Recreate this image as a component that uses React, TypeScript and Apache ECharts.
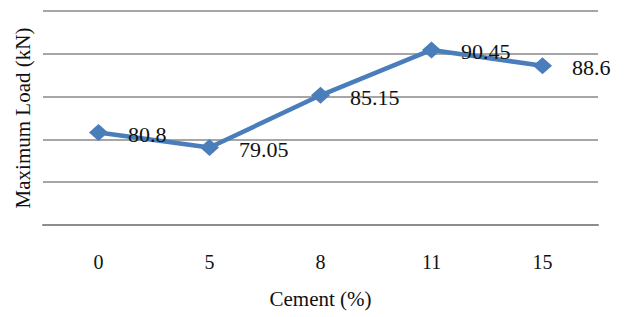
import React, { useEffect, useRef } from "react";
import * as echarts from "echarts";

const categories = ["0", "5", "8", "11", "15"];
const loads = [80.8, 79.05, 85.15, 90.45, 88.6];
const yMin = 70;
const yMax = 95;
const yInterval = 5;

const SERIF = "'Liberation Serif', 'Times New Roman', serif";

export default function App() {
  const ref = useRef<HTMLDivElement>(null);
  useEffect(() => {
    if (!ref.current) return;
    const chart = echarts.init(ref.current, null, { renderer: "svg" });
    chart.setOption({
      animation: false,
      textStyle: { fontFamily: SERIF },
      grid: { left: 43, right: 31, top: 11, bottom: 92 },
      xAxis: {
        type: "category",
        data: categories,
        boundaryGap: true,
        axisLine: { show: true, lineStyle: { color: "#8c8c8c", width: 2 } },
        axisTick: { show: false },
        axisLabel: { color: "#111", fontSize: 20, margin: 27, fontFamily: SERIF },
        name: "Cement (%)",
        nameLocation: "middle",
        nameGap: 63,
        nameTextStyle: { color: "#111", fontSize: 21, fontFamily: SERIF },
      },
      yAxis: {
        type: "value",
        min: yMin,
        max: yMax,
        interval: yInterval,
        axisLine: { show: false },
        axisTick: { show: false },
        axisLabel: { show: false },
        splitLine: { show: true, lineStyle: { color: "#a6a6a6", width: 2 } },
        name: "Maximum Load (kN)",
        nameLocation: "middle",
        nameGap: 10,
        nameTextStyle: { color: "#111", fontSize: 21, fontFamily: SERIF },
      },
      series: [
        {
          type: "line",
          data: loads,
          symbol: "diamond",
          symbolSize: [19, 17],
          showAllSymbol: true,
          lineStyle: { color: "#4a7ebb", width: 4.5 },
          itemStyle: { color: "#4a7ebb" },
          label: {
            show: true,
            position: "right",
            distance: 20,
            offset: [0, 2],
            color: "#111",
            fontSize: 22,
            fontFamily: SERIF,
          },
        },
      ],
    });
    return () => chart.dispose();
  }, []);
  return <div ref={ref} style={{ width: 629, height: 317, position: "absolute", left: 0, top: 0 }} />;
}
